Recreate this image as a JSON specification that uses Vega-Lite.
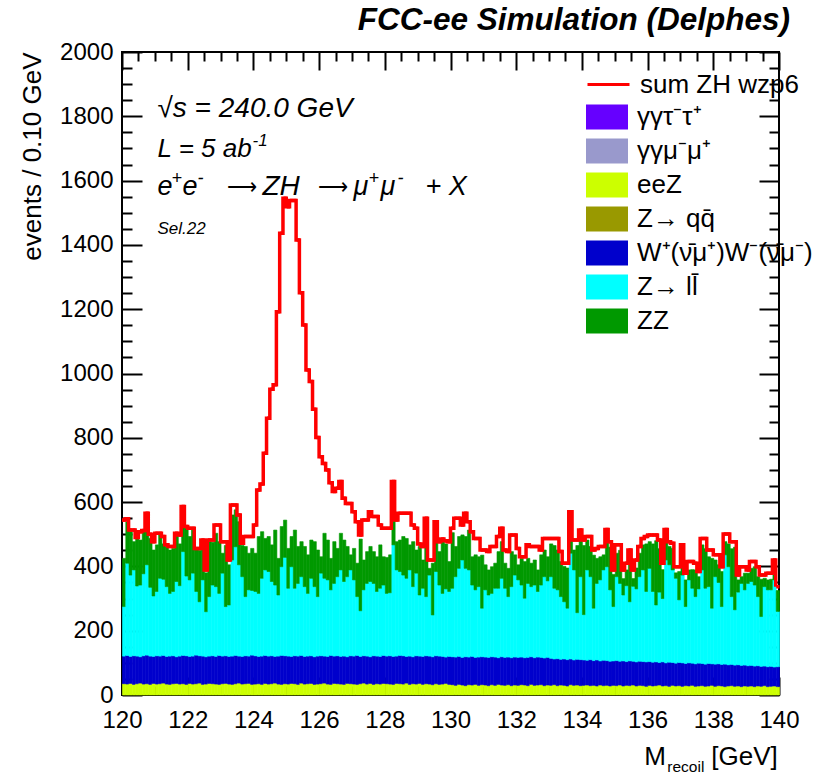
{
"$schema": "https://vega.github.io/schema/vega-lite/v6.json",
"width": 657, "height": 643,
"autosize": "none",
"padding": {"left": 122, "top": 52, "right": 34, "bottom": 82},
"background": "white",
"config": {
  "font": "Liberation Sans",
  "view": {"stroke": "black", "strokeWidth": 2},
  "axis": {"domain": false, "grid": false, "tickColor": "black", "tickWidth": 2, "labelColor": "black", "labelFont": "Liberation Sans", "labelFontSize": 24, "titleFont": "Liberation Sans", "titleColor": "black", "titleFontWeight": "normal"},
  "text": {"font": "Liberation Sans", "color": "black", "align": "left", "baseline": "alphabetic"}
},
"title": {"text": "FCC-ee Simulation (Delphes)", "anchor": "end", "frame": "group", "font": "Liberation Sans", "fontSize": 31.5, "fontStyle": "italic", "fontWeight": "bold", "color": "black", "offset": 4, "dx": 11},
"data": {"values": [
{"m":120,"eeZ":35,"WW":86,"Zll":154,"ZZ":150,"ZH":119},
{"m":120.1,"eeZ":34,"WW":89,"Zll":287,"ZZ":129,"ZH":9},
{"m":120.2,"eeZ":36,"WW":84,"Zll":253,"ZZ":135,"ZH":5},
{"m":120.3,"eeZ":33,"WW":89,"Zll":267,"ZZ":88,"ZH":36},
{"m":120.4,"eeZ":35,"WW":86,"Zll":218,"ZZ":148,"ZH":3},
{"m":120.5,"eeZ":37,"WW":82,"Zll":223,"ZZ":140,"ZH":26},
{"m":120.6,"eeZ":34,"WW":88,"Zll":255,"ZZ":131,"ZH":4},
{"m":120.7,"eeZ":35,"WW":89,"Zll":281,"ZZ":155,"ZH":5},
{"m":120.8,"eeZ":33,"WW":88,"Zll":214,"ZZ":152,"ZH":13},
{"m":120.9,"eeZ":36,"WW":84,"Zll":188,"ZZ":143,"ZH":26},
{"m":121,"eeZ":34,"WW":88,"Zll":200,"ZZ":145,"ZH":36},
{"m":121.1,"eeZ":35,"WW":86,"Zll":242,"ZZ":135,"ZH":5},
{"m":121.2,"eeZ":37,"WW":86,"Zll":237,"ZZ":110,"ZH":23},
{"m":121.3,"eeZ":34,"WW":86,"Zll":217,"ZZ":125,"ZH":5},
{"m":121.4,"eeZ":33,"WW":88,"Zll":195,"ZZ":135,"ZH":11},
{"m":121.5,"eeZ":35,"WW":87,"Zll":200,"ZZ":134,"ZH":6},
{"m":121.6,"eeZ":36,"WW":83,"Zll":234,"ZZ":145,"ZH":5},
{"m":121.7,"eeZ":34,"WW":87,"Zll":219,"ZZ":130,"ZH":28},
{"m":121.8,"eeZ":35,"WW":88,"Zll":323,"ZZ":135,"ZH":5},
{"m":121.9,"eeZ":33,"WW":89,"Zll":248,"ZZ":149,"ZH":5},
{"m":122,"eeZ":36,"WW":84,"Zll":238,"ZZ":135,"ZH":26},
{"m":122.1,"eeZ":34,"WW":87,"Zll":258,"ZZ":134,"ZH":6},
{"m":122.2,"eeZ":35,"WW":89,"Zll":198,"ZZ":129,"ZH":5},
{"m":122.3,"eeZ":37,"WW":85,"Zll":168,"ZZ":160,"ZH":6},
{"m":122.4,"eeZ":33,"WW":88,"Zll":237,"ZZ":117,"ZH":7},
{"m":122.5,"eeZ":34,"WW":85,"Zll":140,"ZZ":121,"ZH":9},
{"m":122.6,"eeZ":36,"WW":85,"Zll":185,"ZZ":171,"ZH":5},
{"m":122.7,"eeZ":35,"WW":87,"Zll":220,"ZZ":133,"ZH":7},
{"m":122.8,"eeZ":34,"WW":86,"Zll":217,"ZZ":166,"ZH":26},
{"m":122.9,"eeZ":33,"WW":90,"Zll":193,"ZZ":161,"ZH":52},
{"m":123,"eeZ":35,"WW":86,"Zll":258,"ZZ":62,"ZH":36},
{"m":123.1,"eeZ":36,"WW":86,"Zll":153,"ZZ":190,"ZH":12},
{"m":123.2,"eeZ":34,"WW":86,"Zll":160,"ZZ":125,"ZH":15},
{"m":123.3,"eeZ":33,"WW":88,"Zll":299,"ZZ":140,"ZH":31},
{"m":123.4,"eeZ":35,"WW":88,"Zll":338,"ZZ":115,"ZH":15},
{"m":123.5,"eeZ":37,"WW":84,"Zll":284,"ZZ":134,"ZH":21},
{"m":123.6,"eeZ":34,"WW":86,"Zll":248,"ZZ":97,"ZH":7},
{"m":123.7,"eeZ":35,"WW":87,"Zll":184,"ZZ":156,"ZH":31},
{"m":123.8,"eeZ":36,"WW":85,"Zll":206,"ZZ":114,"ZH":52},
{"m":123.9,"eeZ":33,"WW":91,"Zll":201,"ZZ":131,"ZH":37},
{"m":124,"eeZ":34,"WW":88,"Zll":200,"ZZ":119,"ZH":88},
{"m":124.1,"eeZ":35,"WW":85,"Zll":196,"ZZ":177,"ZH":145},
{"m":124.2,"eeZ":33,"WW":88,"Zll":242,"ZZ":145,"ZH":148},
{"m":124.3,"eeZ":36,"WW":87,"Zll":266,"ZZ":98,"ZH":265},
{"m":124.4,"eeZ":34,"WW":87,"Zll":263,"ZZ":109,"ZH":368},
{"m":124.5,"eeZ":35,"WW":87,"Zll":231,"ZZ":114,"ZH":484},
{"m":124.6,"eeZ":37,"WW":83,"Zll":222,"ZZ":171,"ZH":452},
{"m":124.7,"eeZ":34,"WW":87,"Zll":190,"ZZ":114,"ZH":767},
{"m":124.8,"eeZ":33,"WW":90,"Zll":276,"ZZ":125,"ZH":912},
{"m":124.9,"eeZ":35,"WW":87,"Zll":306,"ZZ":116,"ZH":1001},
{"m":125,"eeZ":34,"WW":87,"Zll":211,"ZZ":124,"ZH":1063},
{"m":125.1,"eeZ":36,"WW":84,"Zll":279,"ZZ":94,"ZH":1045},
{"m":125.2,"eeZ":35,"WW":87,"Zll":210,"ZZ":181,"ZH":1025},
{"m":125.3,"eeZ":33,"WW":88,"Zll":226,"ZZ":115,"ZH":953},
{"m":125.4,"eeZ":37,"WW":86,"Zll":245,"ZZ":109,"ZH":774},
{"m":125.5,"eeZ":34,"WW":86,"Zll":217,"ZZ":125,"ZH":689},
{"m":125.6,"eeZ":35,"WW":86,"Zll":195,"ZZ":120,"ZH":575},
{"m":125.7,"eeZ":36,"WW":86,"Zll":241,"ZZ":119,"ZH":493},
{"m":125.8,"eeZ":33,"WW":86,"Zll":218,"ZZ":140,"ZH":412},
{"m":125.9,"eeZ":34,"WW":87,"Zll":185,"ZZ":145,"ZH":350},
{"m":126,"eeZ":35,"WW":87,"Zll":257,"ZZ":51,"ZH":311},
{"m":126.1,"eeZ":37,"WW":84,"Zll":242,"ZZ":140,"ZH":217},
{"m":126.2,"eeZ":34,"WW":86,"Zll":238,"ZZ":124,"ZH":218},
{"m":126.3,"eeZ":33,"WW":90,"Zll":204,"ZZ":98,"ZH":235},
{"m":126.4,"eeZ":36,"WW":85,"Zll":226,"ZZ":130,"ZH":156},
{"m":126.5,"eeZ":35,"WW":87,"Zll":246,"ZZ":88,"ZH":187},
{"m":126.6,"eeZ":34,"WW":86,"Zll":269,"ZZ":114,"ZH":161},
{"m":126.7,"eeZ":33,"WW":88,"Zll":232,"ZZ":129,"ZH":130},
{"m":126.8,"eeZ":36,"WW":83,"Zll":249,"ZZ":94,"ZH":134},
{"m":126.9,"eeZ":35,"WW":87,"Zll":267,"ZZ":47,"ZH":160},
{"m":127,"eeZ":34,"WW":87,"Zll":237,"ZZ":98,"ZH":114},
{"m":127.1,"eeZ":33,"WW":90,"Zll":183,"ZZ":104,"ZH":129},
{"m":127.2,"eeZ":35,"WW":85,"Zll":142,"ZZ":223,"ZH":13},
{"m":127.3,"eeZ":37,"WW":85,"Zll":205,"ZZ":93,"ZH":124},
{"m":127.4,"eeZ":34,"WW":87,"Zll":226,"ZZ":99,"ZH":98},
{"m":127.5,"eeZ":36,"WW":83,"Zll":234,"ZZ":109,"ZH":108},
{"m":127.6,"eeZ":33,"WW":89,"Zll":225,"ZZ":99,"ZH":109},
{"m":127.7,"eeZ":35,"WW":86,"Zll":201,"ZZ":108,"ZH":125},
{"m":127.8,"eeZ":34,"WW":86,"Zll":212,"ZZ":135,"ZH":62},
{"m":127.9,"eeZ":36,"WW":87,"Zll":219,"ZZ":88,"ZH":89},
{"m":128,"eeZ":35,"WW":86,"Zll":195,"ZZ":112,"ZH":91},
{"m":128.1,"eeZ":34,"WW":88,"Zll":196,"ZZ":118,"ZH":83},
{"m":128.2,"eeZ":33,"WW":87,"Zll":347,"ZZ":114,"ZH":83},
{"m":128.3,"eeZ":36,"WW":85,"Zll":268,"ZZ":88,"ZH":67},
{"m":128.4,"eeZ":35,"WW":88,"Zll":261,"ZZ":98,"ZH":83},
{"m":128.5,"eeZ":34,"WW":88,"Zll":251,"ZZ":120,"ZH":72},
{"m":128.6,"eeZ":37,"WW":83,"Zll":243,"ZZ":124,"ZH":78},
{"m":128.7,"eeZ":33,"WW":88,"Zll":268,"ZZ":78,"ZH":98},
{"m":128.8,"eeZ":35,"WW":84,"Zll":218,"ZZ":140,"ZH":52},
{"m":128.9,"eeZ":34,"WW":88,"Zll":257,"ZZ":72,"ZH":68},
{"m":129,"eeZ":36,"WW":85,"Zll":190,"ZZ":151,"ZH":8},
{"m":129.1,"eeZ":33,"WW":87,"Zll":212,"ZZ":88,"ZH":42},
{"m":129.2,"eeZ":35,"WW":87,"Zll":184,"ZZ":176,"ZH":68},
{"m":129.3,"eeZ":34,"WW":87,"Zll":252,"ZZ":21,"ZH":26},
{"m":129.4,"eeZ":32,"WW":87,"Zll":130,"ZZ":161,"ZH":10},
{"m":129.5,"eeZ":35,"WW":87,"Zll":262,"ZZ":93,"ZH":62},
{"m":129.6,"eeZ":33,"WW":88,"Zll":221,"ZZ":104,"ZH":31},
{"m":129.7,"eeZ":34,"WW":86,"Zll":196,"ZZ":161,"ZH":8},
{"m":129.8,"eeZ":36,"WW":82,"Zll":212,"ZZ":140,"ZH":10},
{"m":129.9,"eeZ":33,"WW":87,"Zll":202,"ZZ":93,"ZH":62},
{"m":130,"eeZ":32,"WW":87,"Zll":213,"ZZ":173,"ZH":14},
{"m":130.1,"eeZ":30,"WW":88,"Zll":250,"ZZ":94,"ZH":88},
{"m":130.2,"eeZ":33,"WW":87,"Zll":274,"ZZ":99,"ZH":57},
{"m":130.3,"eeZ":31,"WW":86,"Zll":303,"ZZ":78,"ZH":31},
{"m":130.4,"eeZ":29,"WW":90,"Zll":275,"ZZ":99,"ZH":72},
{"m":130.5,"eeZ":32,"WW":86,"Zll":271,"ZZ":124,"ZH":26},
{"m":130.6,"eeZ":31,"WW":89,"Zll":222,"ZZ":88,"ZH":78},
{"m":130.7,"eeZ":33,"WW":84,"Zll":210,"ZZ":109,"ZH":51},
{"m":130.8,"eeZ":30,"WW":88,"Zll":219,"ZZ":93,"ZH":57},
{"m":130.9,"eeZ":32,"WW":87,"Zll":151,"ZZ":165,"ZH":16},
{"m":131,"eeZ":31,"WW":87,"Zll":209,"ZZ":78,"ZH":46},
{"m":131.1,"eeZ":29,"WW":88,"Zll":194,"ZZ":78,"ZH":57},
{"m":131.2,"eeZ":32,"WW":87,"Zll":197,"ZZ":83,"ZH":63},
{"m":131.3,"eeZ":30,"WW":88,"Zll":214,"ZZ":78,"ZH":52},
{"m":131.4,"eeZ":33,"WW":83,"Zll":216,"ZZ":114,"ZH":47},
{"m":131.5,"eeZ":31,"WW":88,"Zll":244,"ZZ":114,"ZH":42},
{"m":131.6,"eeZ":30,"WW":87,"Zll":215,"ZZ":78,"ZH":41},
{"m":131.7,"eeZ":32,"WW":86,"Zll":188,"ZZ":88,"ZH":52},
{"m":131.8,"eeZ":29,"WW":87,"Zll":221,"ZZ":109,"ZH":52},
{"m":131.9,"eeZ":31,"WW":87,"Zll":255,"ZZ":63,"ZH":62},
{"m":132,"eeZ":30,"WW":87,"Zll":241,"ZZ":47,"ZH":51},
{"m":132.1,"eeZ":32,"WW":86,"Zll":224,"ZZ":83,"ZH":5},
{"m":132.2,"eeZ":31,"WW":85,"Zll":185,"ZZ":114,"ZH":15},
{"m":132.3,"eeZ":29,"WW":88,"Zll":230,"ZZ":78,"ZH":42},
{"m":132.4,"eeZ":33,"WW":86,"Zll":218,"ZZ":73,"ZH":52},
{"m":132.5,"eeZ":30,"WW":86,"Zll":226,"ZZ":78,"ZH":42},
{"m":132.6,"eeZ":31,"WW":87,"Zll":204,"ZZ":67,"ZH":73},
{"m":132.7,"eeZ":32,"WW":85,"Zll":225,"ZZ":94,"ZH":15},
{"m":132.8,"eeZ":29,"WW":86,"Zll":253,"ZZ":83,"ZH":36},
{"m":132.9,"eeZ":31,"WW":86,"Zll":238,"ZZ":75,"ZH":57},
{"m":133,"eeZ":30,"WW":84,"Zll":254,"ZZ":102,"ZH":17},
{"m":133.1,"eeZ":32,"WW":80,"Zll":220,"ZZ":133,"ZH":22},
{"m":133.2,"eeZ":29,"WW":84,"Zll":214,"ZZ":124,"ZH":36},
{"m":133.3,"eeZ":31,"WW":80,"Zll":195,"ZZ":109,"ZH":31},
{"m":133.4,"eeZ":30,"WW":82,"Zll":178,"ZZ":110,"ZH":10},
{"m":133.5,"eeZ":28,"WW":82,"Zll":160,"ZZ":125,"ZH":15},
{"m":133.6,"eeZ":32,"WW":80,"Zll":329,"ZZ":98,"ZH":31},
{"m":133.7,"eeZ":30,"WW":79,"Zll":280,"ZZ":62,"ZH":31},
{"m":133.8,"eeZ":31,"WW":80,"Zll":145,"ZZ":209,"ZH":17},
{"m":133.9,"eeZ":29,"WW":81,"Zll":258,"ZZ":119,"ZH":26},
{"m":134,"eeZ":30,"WW":79,"Zll":141,"ZZ":215,"ZH":17},
{"m":134.1,"eeZ":31,"WW":77,"Zll":281,"ZZ":93,"ZH":11},
{"m":134.2,"eeZ":29,"WW":81,"Zll":258,"ZZ":94,"ZH":31},
{"m":134.3,"eeZ":30,"WW":77,"Zll":163,"ZZ":165,"ZH":16},
{"m":134.4,"eeZ":28,"WW":81,"Zll":238,"ZZ":78,"ZH":31},
{"m":134.5,"eeZ":31,"WW":75,"Zll":252,"ZZ":72,"ZH":32},
{"m":134.6,"eeZ":29,"WW":79,"Zll":281,"ZZ":47,"ZH":26},
{"m":134.7,"eeZ":30,"WW":77,"Zll":292,"ZZ":109,"ZH":7},
{"m":134.8,"eeZ":28,"WW":77,"Zll":222,"ZZ":133,"ZH":17},
{"m":134.9,"eeZ":30,"WW":76,"Zll":169,"ZZ":100,"ZH":14},
{"m":135,"eeZ":29,"WW":78,"Zll":261,"ZZ":73,"ZH":26},
{"m":135.1,"eeZ":31,"WW":74,"Zll":242,"ZZ":103,"ZH":17},
{"m":135.2,"eeZ":28,"WW":78,"Zll":205,"ZZ":51,"ZH":27},
{"m":135.3,"eeZ":30,"WW":74,"Zll":236,"ZZ":49,"ZH":21},
{"m":135.4,"eeZ":29,"WW":77,"Zll":184,"ZZ":140,"ZH":21},
{"m":135.5,"eeZ":31,"WW":74,"Zll":233,"ZZ":24,"ZH":27},
{"m":135.6,"eeZ":28,"WW":75,"Zll":227,"ZZ":65,"ZH":25},
{"m":135.7,"eeZ":30,"WW":75,"Zll":263,"ZZ":73,"ZH":21},
{"m":135.8,"eeZ":29,"WW":75,"Zll":285,"ZZ":78,"ZH":20},
{"m":135.9,"eeZ":27,"WW":76,"Zll":219,"ZZ":148,"ZH":23},
{"m":136,"eeZ":30,"WW":74,"Zll":290,"ZZ":83,"ZH":21},
{"m":136.1,"eeZ":28,"WW":74,"Zll":220,"ZZ":148,"ZH":28},
{"m":136.2,"eeZ":29,"WW":74,"Zll":177,"ZZ":200,"ZH":18},
{"m":136.3,"eeZ":31,"WW":70,"Zll":219,"ZZ":135,"ZH":27},
{"m":136.4,"eeZ":28,"WW":75,"Zll":197,"ZZ":90,"ZH":20},
{"m":136.5,"eeZ":29,"WW":71,"Zll":320,"ZZ":78,"ZH":17},
{"m":136.6,"eeZ":27,"WW":75,"Zll":303,"ZZ":57,"ZH":15},
{"m":136.7,"eeZ":30,"WW":71,"Zll":288,"ZZ":67,"ZH":16},
{"m":136.8,"eeZ":28,"WW":71,"Zll":264,"ZZ":17,"ZH":19},
{"m":136.9,"eeZ":29,"WW":72,"Zll":195,"ZZ":88,"ZH":15},
{"m":137,"eeZ":27,"WW":73,"Zll":273,"ZZ":78,"ZH":16},
{"m":137.1,"eeZ":29,"WW":69,"Zll":177,"ZZ":83,"ZH":21},
{"m":137.2,"eeZ":28,"WW":72,"Zll":258,"ZZ":31,"ZH":26},
{"m":137.3,"eeZ":30,"WW":69,"Zll":233,"ZZ":58,"ZH":25},
{"m":137.4,"eeZ":27,"WW":70,"Zll":209,"ZZ":83,"ZH":21},
{"m":137.5,"eeZ":28,"WW":71,"Zll":231,"ZZ":38,"ZH":16},
{"m":137.6,"eeZ":29,"WW":69,"Zll":291,"ZZ":78,"ZH":20},
{"m":137.7,"eeZ":27,"WW":69,"Zll":236,"ZZ":123,"ZH":32},
{"m":137.8,"eeZ":28,"WW":70,"Zll":239,"ZZ":93,"ZH":21},
{"m":137.9,"eeZ":30,"WW":67,"Zll":173,"ZZ":155,"ZH":26},
{"m":138,"eeZ":27,"WW":69,"Zll":272,"ZZ":52,"ZH":16},
{"m":138.1,"eeZ":29,"WW":68,"Zll":253,"ZZ":55,"ZH":31},
{"m":138.2,"eeZ":28,"WW":67,"Zll":180,"ZZ":109,"ZH":15},
{"m":138.3,"eeZ":26,"WW":70,"Zll":340,"ZZ":41,"ZH":24},
{"m":138.4,"eeZ":28,"WW":66,"Zll":305,"ZZ":71,"ZH":31},
{"m":138.5,"eeZ":29,"WW":66,"Zll":211,"ZZ":149,"ZH":22},
{"m":138.6,"eeZ":27,"WW":66,"Zll":172,"ZZ":195,"ZH":17},
{"m":138.7,"eeZ":28,"WW":66,"Zll":226,"ZZ":38,"ZH":15},
{"m":138.8,"eeZ":26,"WW":66,"Zll":255,"ZZ":21,"ZH":31},
{"m":138.9,"eeZ":28,"WW":65,"Zll":234,"ZZ":52,"ZH":20},
{"m":139,"eeZ":27,"WW":64,"Zll":256,"ZZ":32,"ZH":10},
{"m":139.1,"eeZ":28,"WW":64,"Zll":261,"ZZ":41,"ZH":21},
{"m":139.2,"eeZ":26,"WW":64,"Zll":252,"ZZ":57,"ZH":16},
{"m":139.3,"eeZ":28,"WW":63,"Zll":215,"ZZ":62,"ZH":31},
{"m":139.4,"eeZ":27,"WW":62,"Zll":155,"ZZ":116,"ZH":13},
{"m":139.5,"eeZ":29,"WW":61,"Zll":247,"ZZ":26,"ZH":10},
{"m":139.6,"eeZ":26,"WW":62,"Zll":239,"ZZ":31,"ZH":21},
{"m":139.7,"eeZ":27,"WW":62,"Zll":238,"ZZ":33,"ZH":19},
{"m":139.8,"eeZ":28,"WW":59,"Zll":271,"ZZ":52,"ZH":10},
{"m":139.9,"eeZ":26,"WW":62,"Zll":172,"ZZ":65,"ZH":12}
]},
"layer": [
{
  "transform": [
    {"fold": ["eeZ","WW","Zll","ZZ"], "as": ["proc","n"]},
    {"lookup": "proc", "from": {"data": {"values": [{"proc":"eeZ","rank":1},{"proc":"WW","rank":2},{"proc":"Zll","rank":3},{"proc":"ZZ","rank":4}]}, "key": "proc", "fields": ["rank"]}}
  ],
  "mark": {"type": "bar", "binSpacing": 0, "strokeWidth": 0.6},
  "encoding": {
    "x": {"field": "m", "type": "quantitative", "bin": {"binned": true, "step": 0.1},
          "scale": {"domain": [120,140], "nice": false, "zero": false},
          "axis": {"orient": "bottom", "values": [120,120.5,121,121.5,122,122.5,123,123.5,124,124.5,125,125.5,126,126.5,127,127.5,128,128.5,129,129.5,130,130.5,131,131.5,132,132.5,133,133.5,134,134.5,135,135.5,136,136.5,137,137.5,138,138.5,139,139.5,140],
                   "format": "d", "tickSize": {"condition": {"test": "datum.value % 2 === 0", "value": -18}, "value": -9},
                   "labelExpr": "datum.value % 2 === 0 ? datum.label : ''", "labelPadding": 31, "labelOverlap": false, "labelFlush": false, "title": null}},
    "y": {"field": "n", "type": "quantitative", "stack": "zero",
          "scale": {"domain": [0,2000], "nice": false},
          "axis": {"orient": "left", "values": [0,50,100,150,200,250,300,350,400,450,500,550,600,650,700,750,800,850,900,950,1000,1050,1100,1150,1200,1250,1300,1350,1400,1450,1500,1550,1600,1650,1700,1750,1800,1850,1900,1950,2000],
                   "format": "d", "tickSize": {"condition": {"test": "datum.value % 200 === 0", "value": -20}, "value": -10},
                   "labelExpr": "datum.value % 200 === 0 ? datum.label : ''", "labelPadding": 29, "labelOverlap": false, "labelFlush": false,
                   "title": "events / 0.10 GeV", "titleAnchor": "end", "titleFontSize": 26, "titlePadding": 14}},
    "fill": {"field": "proc", "type": "nominal",
             "scale": {"domain": ["ggtt","ggmm","eeZ","Zqq","WW","Zll","ZZ"], "range": ["#6600ff","#9999cc","#ccff00","#999900","#0000cc","#00ffff","#009900"]},
             "legend": {"orient": "none", "legendX": 464, "legendY": 44, "title": null, "padding": 0,
                        "symbolType": "M-1,-0.6H1V0.6H-1Z", "symbolSize": 1764, "symbolStrokeWidth": 0, "symbolOpacity": 1,
                        "labelFont": "Liberation Sans", "labelFontSize": 26, "labelColor": "black", "labelOffset": 9, "labelLimit": 400, "rowPadding": -8,
                        "labelExpr": "datum.label === 'ggtt' ? 'γγτ⁻τ⁺' : datum.label === 'ggmm' ? 'γγμ⁻μ⁺' : datum.label === 'Zqq' ? 'Z→ qq\u0304' : datum.label === 'WW' ? 'W⁺(ν\u0304μ⁺)W⁻(ν\u0304μ⁻)' : datum.label === 'Zll' ? 'Z→ ll\u0304' : datum.label"}},
    "stroke": {"field": "proc", "type": "nominal",
               "scale": {"domain": ["ggtt","ggmm","eeZ","Zqq","WW","Zll","ZZ"], "range": ["#6600ff","#9999cc","#ccff00","#999900","#0000cc","#00ffff","#009900"]},
               "legend": null},
    "order": {"field": "rank", "type": "quantitative", "sort": "ascending"}
  }
},
{
  "transform": [
    {"fold": ["eeZ","WW","Zll","ZZ","ZH"], "as": ["proc","n"]},
    {"aggregate": [{"op": "sum", "field": "n", "as": "total"}], "groupby": ["m"]}
  ],
  "mark": {"type": "line", "interpolate": "step-after", "strokeWidth": 3.5, "strokeJoin": "miter"},
  "encoding": {
    "x": {"field": "m", "type": "quantitative",
          "axis": {"orient": "top", "values": [120,120.5,121,121.5,122,122.5,123,123.5,124,124.5,125,125.5,126,126.5,127,127.5,128,128.5,129,129.5,130,130.5,131,131.5,132,132.5,133,133.5,134,134.5,135,135.5,136,136.5,137,137.5,138,138.5,139,139.5,140],
                   "tickSize": {"condition": {"test": "datum.value % 2 === 0", "value": -18}, "value": -9}, "labels": false, "title": null}},
    "y": {"field": "total", "type": "quantitative",
          "axis": {"orient": "right", "values": [0,50,100,150,200,250,300,350,400,450,500,550,600,650,700,750,800,850,900,950,1000,1050,1100,1150,1200,1250,1300,1350,1400,1450,1500,1550,1600,1650,1700,1750,1800,1850,1900,1950,2000],
                   "tickSize": {"condition": {"test": "datum.value % 200 === 0", "value": -20}, "value": -10}, "labels": false, "title": null}},
    "color": {"datum": "sum ZH wzp6", "type": "nominal", "scale": {"range": ["#ff0000"]},
              "legend": {"orient": "none", "legendX": 464, "legendY": 10, "title": null, "padding": 0,
                         "symbolType": "stroke", "symbolSize": 1764, "symbolStrokeWidth": 3,
                         "labelFont": "Liberation Sans", "labelFontSize": 26, "labelColor": "black", "labelOffset": 9, "labelLimit": 400}}
  }
},
{
  "transform": [
    {"fold": ["eeZ","WW","Zll","ZZ","ZH"], "as": ["proc","n"]},
    {"aggregate": [{"op": "sum", "field": "n", "as": "total"}], "groupby": ["m"]}
  ],
  "mark": {"type": "bar", "binSpacing": 0, "fill": "#ff0000", "fillOpacity": 0, "stroke": "#ff0000", "strokeWidth": 3.5},
  "encoding": {
    "x": {"field": "m", "type": "quantitative", "bin": {"binned": true, "step": 0.1}, "axis": null},
    "y": {"field": "total", "type": "quantitative", "axis": null},
    "y2": {"field": "total"}
  }
},
{"data": {"values": [{}]}, "mark": {"type": "text", "text": "√s = 240.0 GeV", "fontSize": 28, "fontStyle": "italic"},
 "encoding": {"x": {"datum": 121.08, "type": "quantitative", "axis": null}, "y": {"datum": 1797, "type": "quantitative", "axis": null}}},
{"data": {"values": [{}]}, "mark": {"type": "text", "text": "L = 5 ab", "fontSize": 26, "fontStyle": "italic"},
 "encoding": {"x": {"datum": 121.08, "type": "quantitative", "axis": null}, "y": {"datum": 1673, "type": "quantitative", "axis": null}}},
{"data": {"values": [{}]}, "mark": {"type": "text", "text": "-1", "fontSize": 17, "fontStyle": "italic", "dx": 95, "dy": -11},
 "encoding": {"x": {"datum": 121.08, "type": "quantitative", "axis": null}, "y": {"datum": 1673, "type": "quantitative", "axis": null}}},
{"data": {"values": [{}]}, "mark": {"type": "text", "text": "e", "fontSize": 27, "fontStyle": "italic"},
 "encoding": {"x": {"datum": 121.08, "type": "quantitative", "axis": null}, "y": {"datum": 1555, "type": "quantitative", "axis": null}}},
{"data": {"values": [{}]}, "mark": {"type": "text", "text": "+", "fontSize": 18, "fontStyle": "italic", "dx": 14, "dy": -11},
 "encoding": {"x": {"datum": 121.08, "type": "quantitative", "axis": null}, "y": {"datum": 1555, "type": "quantitative", "axis": null}}},
{"data": {"values": [{}]}, "mark": {"type": "text", "text": "e", "fontSize": 27, "fontStyle": "italic", "dx": 25},
 "encoding": {"x": {"datum": 121.08, "type": "quantitative", "axis": null}, "y": {"datum": 1555, "type": "quantitative", "axis": null}}},
{"data": {"values": [{}]}, "mark": {"type": "text", "text": "-", "fontSize": 18, "fontStyle": "italic", "dx": 40, "dy": -11},
 "encoding": {"x": {"datum": 121.08, "type": "quantitative", "axis": null}, "y": {"datum": 1555, "type": "quantitative", "axis": null}}},
{"data": {"values": [{}]}, "mark": {"type": "text", "text": "⟶", "fontSize": 21, "dx": 70, "dy": -1},
 "encoding": {"x": {"datum": 121.08, "type": "quantitative", "axis": null}, "y": {"datum": 1555, "type": "quantitative", "axis": null}}},
{"data": {"values": [{}]}, "mark": {"type": "text", "text": "ZH", "fontSize": 28, "fontStyle": "italic", "dx": 105},
 "encoding": {"x": {"datum": 121.08, "type": "quantitative", "axis": null}, "y": {"datum": 1555, "type": "quantitative", "axis": null}}},
{"data": {"values": [{}]}, "mark": {"type": "text", "text": "⟶", "fontSize": 21, "dx": 161, "dy": -1},
 "encoding": {"x": {"datum": 121.08, "type": "quantitative", "axis": null}, "y": {"datum": 1555, "type": "quantitative", "axis": null}}},
{"data": {"values": [{}]}, "mark": {"type": "text", "text": "μ", "fontSize": 27, "fontStyle": "italic", "dx": 196},
 "encoding": {"x": {"datum": 121.08, "type": "quantitative", "axis": null}, "y": {"datum": 1555, "type": "quantitative", "axis": null}}},
{"data": {"values": [{}]}, "mark": {"type": "text", "text": "+", "fontSize": 18, "fontStyle": "italic", "dx": 211, "dy": -11},
 "encoding": {"x": {"datum": 121.08, "type": "quantitative", "axis": null}, "y": {"datum": 1555, "type": "quantitative", "axis": null}}},
{"data": {"values": [{}]}, "mark": {"type": "text", "text": "μ", "fontSize": 27, "fontStyle": "italic", "dx": 223},
 "encoding": {"x": {"datum": 121.08, "type": "quantitative", "axis": null}, "y": {"datum": 1555, "type": "quantitative", "axis": null}}},
{"data": {"values": [{}]}, "mark": {"type": "text", "text": "-", "fontSize": 18, "fontStyle": "italic", "dx": 240, "dy": -11},
 "encoding": {"x": {"datum": 121.08, "type": "quantitative", "axis": null}, "y": {"datum": 1555, "type": "quantitative", "axis": null}}},
{"data": {"values": [{}]}, "mark": {"type": "text", "text": "+ X", "fontSize": 27, "fontStyle": "italic", "dx": 268},
 "encoding": {"x": {"datum": 121.08, "type": "quantitative", "axis": null}, "y": {"datum": 1555, "type": "quantitative", "axis": null}}},
{"data": {"values": [{}]}, "mark": {"type": "text", "text": "Sel.22", "fontSize": 17, "fontStyle": "italic"},
 "encoding": {"x": {"datum": 121.08, "type": "quantitative", "axis": null}, "y": {"datum": 1434, "type": "quantitative", "axis": null}}},
{"data": {"values": [{}]}, "mark": {"type": "text", "text": "M", "fontSize": 26},
 "encoding": {"x": {"datum": 135.9, "type": "quantitative", "axis": null}, "y": {"datum": -218, "type": "quantitative", "axis": null}}},
{"data": {"values": [{}]}, "mark": {"type": "text", "text": "recoil", "fontSize": 15.5},
 "encoding": {"x": {"datum": 136.6, "type": "quantitative", "axis": null}, "y": {"datum": -238, "type": "quantitative", "axis": null}}},
{"data": {"values": [{}]}, "mark": {"type": "text", "text": "[GeV]", "fontSize": 26},
 "encoding": {"x": {"datum": 137.94, "type": "quantitative", "axis": null}, "y": {"datum": -218, "type": "quantitative", "axis": null}}}
],
"resolve": {"axis": {"x": "independent", "y": "independent"}}
}
